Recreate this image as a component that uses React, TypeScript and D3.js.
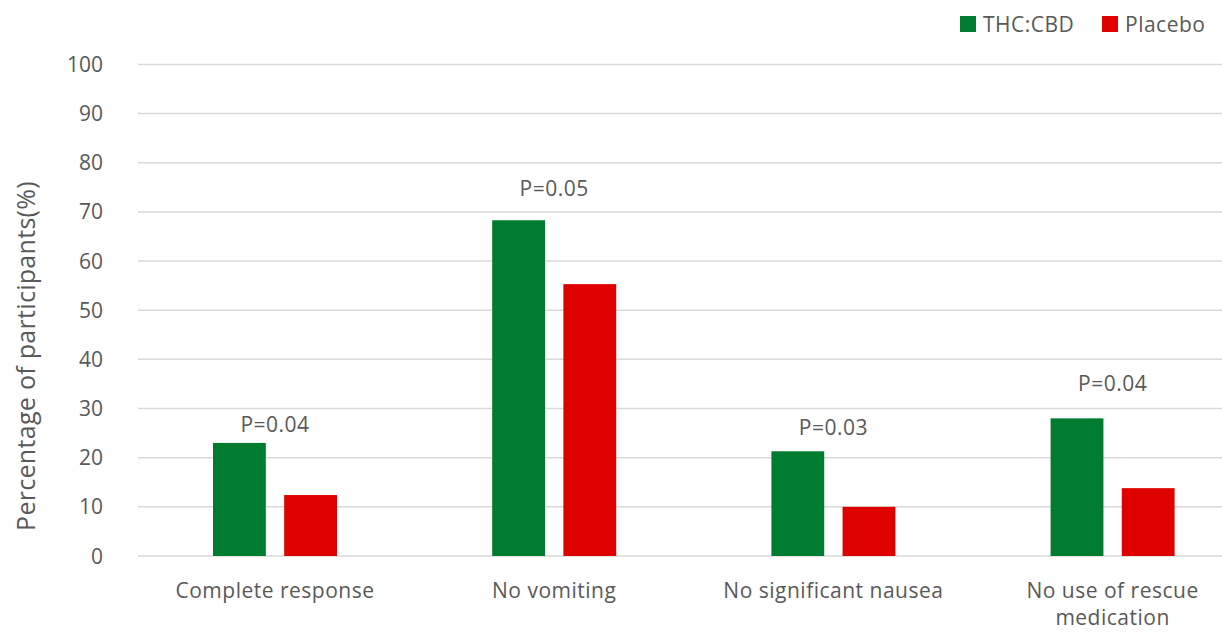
import React from "react";
import * as d3 from "d3";

const categories: string[][] = [
  ["Complete response"],
  ["No vomiting"],
  ["No significant nausea"],
  ["No use of rescue", "medication"],
];
const seriesNames = ["THC:CBD", "Placebo"];
const thcValues = [23.0, 68.3, 21.3, 28.0];
const placeboValues = [12.4, 55.3, 10.0, 13.8];
const pLabels = ["P=0.04", "P=0.05", "P=0.03", "P=0.04"];
const pLabelY = [25.2, 73.2, 24.6, 33.6];
const yTicks = [0, 10, 20, 30, 40, 50, 60, 70, 80, 90, 100];
const colors = ["#007C30", "#DF0000"];

const W = 1222;
const H = 632;
const FONT = "'Open Sans', sans-serif";
const TEXT = "#595959";

export default function App() {
  const y = d3.scaleLinear().domain([0, 100]).range([556, 64.4]);
  const x = d3
    .scaleBand<number>()
    .domain(d3.range(categories.length))
    .range([135.4, 135.4 + 279.2 * 4])
    .paddingInner(0)
    .paddingOuter(0);
  const inner = d3
    .scaleBand<number>()
    .domain([0, 1])
    .range([-62, 62])
    .paddingInner(16 / 62);
  const series = [thcValues, placeboValues];

  return (
    <svg
      width={W}
      height={H}
      style={{ position: "absolute", left: 0, top: 0, display: "block", background: "#fff" }}
      fontFamily={FONT}
    >
      {yTicks.map((t) => (
        <g key={t}>
          <line x1={138} x2={W} y1={y(t)} y2={y(t)} stroke="#D9D9D9" strokeWidth={1.5} />
          <text x={103} y={y(t)} dy="0.36em" textAnchor="end" fontSize={21} fill={TEXT}>
            {t}
          </text>
        </g>
      ))}
      <text
        transform={`translate(35,356) rotate(-90)`}
        textAnchor="middle"
        fontSize={25}
        letterSpacing={0.3}
        fill={TEXT}
      >
        Percentage of participants(%)
      </text>
      {categories.map((c, i) => {
        const cx = x(i)! + x.bandwidth() / 2;
        return (
          <g key={i}>
            {series.map((vals, s) => (
              <rect
                key={s}
                x={cx + inner(s)!}
                y={y(vals[i])}
                width={inner.bandwidth()}
                height={y(0) - y(vals[i])}
                fill={colors[s]}
              />
            ))}
            <text
              x={cx}
              y={y(pLabelY[i])}
              textAnchor="middle"
              fontSize={21}
              letterSpacing={0.5}
              fill={TEXT}
            >
              {pLabels[i]}
            </text>
            <text
              x={cx}
              y={598}
              textAnchor="middle"
              fontSize={21}
              letterSpacing={0.5}
              fill={TEXT}
            >
              {c.map((line, li) => (
                <tspan key={li} x={cx} dy={li === 0 ? 0 : 27}>
                  {line}
                </tspan>
              ))}
            </text>
          </g>
        );
      })}
      {seriesNames.map((n, s) => {
        const lx = [960, 1102][s];
        return (
          <g key={n}>
            <rect x={lx} y={16} width={16} height={16} fill={colors[s]} />
            <text x={lx + 23} y={32} fontSize={21} fill={TEXT} letterSpacing={0.5}>
              {n}
            </text>
          </g>
        );
      })}
    </svg>
  );
}
